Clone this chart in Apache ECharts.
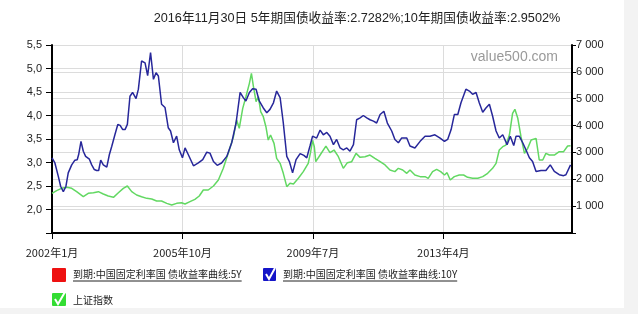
<!DOCTYPE html>
<html>
<head>
<meta charset="utf-8">
<script src="https://cdn.jsdelivr.net/npm/echarts@6/dist/echarts.min.js"></script>
<style>
html,body{margin:0;padding:0;background:#fff;}
#c{width:638px;height:314px;}
</style>
</head>
<body>
<div id="c"></div>
<script>
// ---- data (month index: 0 = 2002年1月) ----
var tenYearMonth = [0,1.0,2.2,3.0,3.9,4.8,5.6,6.8,7.9,8.7,9.2,10.0,10.8,11.6,12.9,13.7,14.6,15.4,16.1,16.8,17.7,18.9,19.8,20.6,21.2,21.7,22.7,23.5,24.4,25.2,26.0,26.9,27.8,29.0,29.8,30.9,32.1,33.0,34.0,35.0,35.9,36.7,37.8,39.0,40.1,40.9,41.9,43.0,43.9,45.0,45.9,47.0,48.8,50.5,52.0,53.4,54.5,55.7,57.0,58.5,60.3,62.0,63.5,64.9,66.0,66.9,68.1,69.2,70.4,71.5,72.9,74.1,75.2,76.4,77.5,78.7,79.8,81.0,81.9,83.0,84.2,85.6,86.9,87.9,89.0,89.9,91.3,92.5,93.6,94.8,95.9,97.1,98.2,99.4,100.5,101.7,102.8,104.0,105.1,106.3,107.4,108.6,109.7,110.9,112.0,113.2,114.5,115.7,117.2,118.3,119.5,120.6,122.4,123.5,125.2,127.0,128.7,130.4,132.1,133.9,135.4,136.5,137.7,138.8,140.0,141.1,142.8,144.0,145.1,146.3,147.4,148.6,149.7,150.9,152.0,153.2,154.3,155.5,157.0,158.1,159.3,160.1,161.2,162.4,163.5,164.7,165.8,167.0,168.7,170.4,171.9,173.3,175.0,176.5,177.3,178.9];
var tenYearYield = [3.10,2.99,2.70,2.49,2.38,2.49,2.78,2.95,3.05,3.06,3.17,3.45,3.24,3.13,3.07,2.95,2.85,2.83,2.83,3.05,2.95,2.90,3.17,3.34,3.30,3.59,3.81,3.79,3.70,3.70,3.81,4.41,4.49,4.36,4.56,5.16,5.12,4.85,5.34,4.77,4.91,4.84,4.24,4.17,3.74,3.67,3.42,3.56,3.27,3.10,3.31,3.17,2.93,2.99,3.06,3.22,3.20,3.02,2.94,2.99,3.13,3.42,3.84,4.49,4.38,4.31,4.49,4.57,4.56,4.31,4.16,4.06,4.13,4.27,4.52,4.38,3.84,3.13,3.02,2.78,3.06,3.19,3.15,3.10,3.35,3.56,3.52,3.69,3.59,3.64,3.56,3.38,3.49,3.31,3.27,3.31,3.24,3.38,3.91,3.95,4.00,3.95,3.91,3.88,3.84,4.02,4.09,3.84,3.67,3.49,3.42,3.52,3.52,3.35,3.31,3.45,3.56,3.56,3.59,3.52,3.45,3.49,3.70,4.02,4.02,4.27,4.56,4.52,4.45,4.49,4.27,4.07,4.16,4.24,3.99,3.67,3.52,3.59,3.38,3.56,3.36,3.56,3.56,3.42,3.27,3.10,3.02,2.81,2.83,2.83,2.95,2.81,2.74,2.72,2.74,2.95];

var shIndexMonth = [0,1.6,3.3,5.1,6.8,8.5,10.8,12.5,14.3,16.0,17.7,19.4,21.2,22.9,24.6,26.0,27.5,29.2,30.9,32.7,34.4,36.1,37.8,39.6,41.3,43.0,44.7,45.9,47.6,49.3,50.8,52.2,53.9,55.7,57.4,59.1,60.8,62.6,63.7,64.6,65.8,66.9,68.1,68.8,69.5,70.4,71.2,72.0,72.9,73.8,74.6,75.4,76.6,77.5,78.7,79.8,81.0,82.1,83.3,85.0,86.7,88.4,89.2,89.9,90.5,91.0,92.5,94.5,95.9,97.3,98.8,100.5,101.9,103.4,104.9,106.3,108.0,109.7,111.4,113.2,114.9,116.6,118.3,119.5,121.0,122.4,123.5,125.2,127.0,128.7,129.8,131.3,132.7,134.1,135.4,136.3,137.4,138.8,140.5,142.0,143.4,145.1,146.9,148.6,150.3,152.0,153.2,154.3,155.5,156.6,157.8,158.9,159.7,160.7,161.8,163.0,164.1,165.3,167.0,168.1,169.3,170.4,171.6,173.3,175.0,176.5,177.9,178.9];
var shIndexValue = [1477,1576,1663,1700,1663,1539,1352,1477,1500,1539,1452,1377,1328,1500,1663,1750,1539,1415,1352,1290,1266,1191,1191,1104,1042,1104,1129,1079,1166,1253,1377,1601,1601,1750,1973,2408,2966,3586,4207,3897,4642,5074,5573,5946,5449,4890,5074,4516,4330,3958,3462,3648,3338,2780,2594,2222,1725,1850,1825,2036,2284,2594,3000,3450,3213,2655,2904,3238,2990,3090,2841,2408,2619,2655,2966,2817,2841,2904,2780,2655,2532,2346,2284,2408,2346,2222,2346,2159,2098,2098,2036,2284,2370,2284,2159,2246,1973,2098,2159,2159,2073,2036,2036,2098,2222,2408,2594,3090,3213,3275,3648,4456,4605,4270,3586,2966,3151,3462,3524,2718,2718,2966,2904,2904,3028,3028,3239,3250];

var xTickLabels = ['2002年1月','2005年10月','2009年7月','2013年4月'];
var titleText = '2016年11月30日 5年期国债收益率:2.7282%;10年期国债收益率:2.9502%';
var legend5Y = '到期:中国固定利率国 债收益率曲线:5Y';
var legend10Y = '到期:中国固定利率国 债收益率曲线:10Y';
var legendSH = '上证指数';

function pairs(xs, ys){ return xs.map(function(x,i){ return [x, ys[i]]; }); }

var legendFont = "10px 'Noto Sans CJK SC'";
function textW(t, f){ var c=document.createElement('canvas').getContext('2d'); c.font=f; return c.measureText(t).width; }
var w5 = textW(legend5Y, legendFont), w10 = textW(legend10Y, legendFont);

var chart = echarts.init(document.getElementById('c'), null, {renderer:'canvas'});
var gridColor = '#dcdcdc';
var option = {
  backgroundColor: '#ffffff',
  animation: false,
  grid: {left: 52, right: 66, top: 45, bottom: 81, containLabel: false},
  xAxis: {
    type: 'value', min: 0, max: 179.4, interval: 45,
    axisLine: {show: true, lineStyle: {color: '#000', width: 2}},
    axisTick: {show: true, length: 6, lineStyle: {color: '#000', width: 1}},
    axisLabel: {show: true, margin: 14, color: '#222', fontSize: 11, fontFamily: "'Noto Sans CJK SC'",
      showMaxLabel: false,
      formatter: function(v){ var k = Math.round(v/45); return (Math.abs(v-k*45)<0.01 && xTickLabels[k]) ? xTickLabels[k] : ''; }},
    splitLine: {show: true, lineStyle: {color: gridColor, width: 1}}
  },
  yAxis: [{
    type: 'value', min: 1.5, max: 5.5, interval: 0.5, position: 'left',
    axisLine: {show: true, lineStyle: {color: '#000', width: 2}},
    axisTick: {show: true, length: 6, lineStyle: {color: '#000'}},
    axisLabel: {margin: 10, color: '#222', fontSize: 11, fontFamily: "'Liberation Sans'",
      formatter: function(v){ return Math.abs(v-1.5)<1e-6 ? '' : v.toFixed(1).replace('.', ','); }},
    splitLine: {show: true, lineStyle: {color: gridColor, width: 1}}
  }, {
    type: 'value', min: 0, max: 7000, interval: 1000, position: 'right',
    axisLine: {show: true, lineStyle: {color: '#000', width: 2}},
    axisTick: {show: true, length: 4, lineStyle: {color: '#000'}},
    axisLabel: {margin: 4, color: '#222', fontSize: 11, fontFamily: "'Liberation Sans'",
      formatter: function(v){ if (v === 0) return ''; return String(v).replace(/\B(?=(\d{3})+(?!\d))/g, ' '); }},
    splitLine: {show: true, lineStyle: {color: gridColor, width: 1}}
  }],
  series: [{
    name: '到期:中国固定利率国债收益率曲线:10Y', type: 'line', yAxisIndex: 0,
    data: pairs(tenYearMonth, tenYearYield), showSymbol: false, z: 3,
    lineStyle: {color: '#27279a', width: 1.5}
  }, {
    name: '上证指数', type: 'line', yAxisIndex: 1,
    data: pairs(shIndexMonth, shIndexValue), showSymbol: false, z: 2,
    lineStyle: {color: '#62d862', width: 1.5}
  }],
  graphic: [
    {type: 'rect', shape: {x: 624, y: 0, width: 14, height: 314}, style: {fill: '#f3f3f3'}, silent: true, z: -10},
    {type: 'rect', shape: {x: 0, y: 308, width: 638, height: 6}, style: {fill: '#f3f3f3'}, silent: true, z: -10},
    {type: 'text', x: 357, y: 18, style: {text: titleText, fill: '#222', font: "12.7px 'Liberation Sans','Noto Sans CJK SC'", textAlign: 'center', textVerticalAlign: 'middle'}},
    {type: 'text', x: 558, y: 57, style: {text: 'value500.com', fill: '#9a9a9a', font: "14px 'Liberation Sans'", textAlign: 'right', textVerticalAlign: 'middle'}, z: 1},
    // legend: 5Y (red, unchecked)
    {type: 'rect', shape: {x: 52, y: 268, width: 14, height: 14, r: 1}, style: {fill: '#ee1111'}},
    {type: 'text', x: 73, y: 274, style: {text: legend5Y, fill: '#222', font: legendFont, textVerticalAlign: 'middle'}},
    {type: 'line', shape: {x1: 73, y1: 281, x2: 73 + w5, y2: 281}, style: {stroke: '#222', lineWidth: 1}},
    // legend: 10Y (blue, checked)
    {type: 'rect', shape: {x: 263, y: 268, width: 13, height: 13, r: 1}, style: {fill: '#1515c8'}},
    {type: 'polyline', shape: {points: [[266, 274], [269, 279], [275, 268]]}, style: {stroke: '#fff', lineWidth: 2, fill: null}},
    {type: 'text', x: 283, y: 274, style: {text: legend10Y, fill: '#222', font: legendFont, textVerticalAlign: 'middle'}},
    {type: 'line', shape: {x1: 283, y1: 281, x2: 283 + w10, y2: 281}, style: {stroke: '#222', lineWidth: 1}},
    // legend: 上证指数 (green, checked)
    {type: 'rect', shape: {x: 52, y: 293, width: 14, height: 13, r: 1}, style: {fill: '#33dd33'}},
    {type: 'polyline', shape: {points: [[55, 299], [58, 304], [65, 292]]}, style: {stroke: '#fff', lineWidth: 2, fill: null}},
    {type: 'text', x: 73, y: 300, style: {text: legendSH, fill: '#222', font: legendFont, textVerticalAlign: 'middle'}}
  ]
};
chart.setOption(option);
</script>
</body>
</html>
